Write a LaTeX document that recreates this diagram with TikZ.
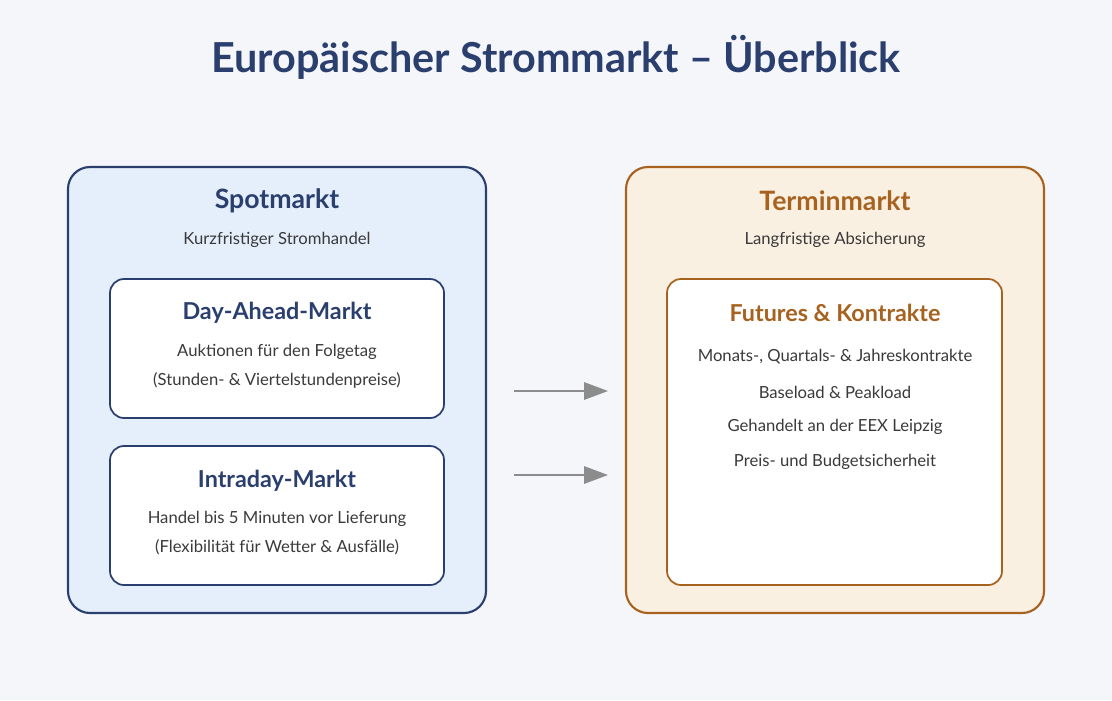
\documentclass[tikz,border=0pt]{standalone}
\usepackage{fontspec}
\setmainfont{Lato}
\usetikzlibrary{arrows.meta}
\definecolor{navy}{HTML}{2B3F6E}
\definecolor{brown}{HTML}{A8621F}
\definecolor{bg}{HTML}{F4F6FA}
\definecolor{bluefill}{HTML}{E5EEFB}
\definecolor{tanfill}{HTML}{FAF0E2}
\definecolor{txt}{HTML}{3A3A3A}
\begin{document}
\begin{tikzpicture}[x=0.75pt,y=-0.75pt,
  outer/.style={rounded corners=16.5pt,line width=1.6pt},
  inner/.style={rounded corners=10.5pt,line width=1.3pt,fill=white},
  ttl/.style={font=\bfseries\fontsize{20}{24}\selectfont},
  ittl/.style={font=\bfseries\fontsize{17.5}{21}\selectfont},
  body/.style={font=\fontsize{12.5}{15}\selectfont,text=txt},
  arr/.style={-{Triangle[length=18pt,width=13pt]},line width=1.6pt,draw=gray!90}]
\fill[bg] (0,0) rectangle (1112,700);
\node[text=navy,font=\bfseries\fontsize{31}{36}\selectfont] (title) at (556,57) {Europäischer Strommarkt – Überblick};
\draw[outer,draw=navy,fill=bluefill] (68,167) rectangle (486,613);
\node[ttl,text=navy] (spot) at (277,201) {Spotmarkt};
\node[body] (spots) at (277,240) {Kurzfristiger Stromhandel};
\draw[inner,draw=navy] (110,279) rectangle (444,418);
\node[ittl,text=navy] (da) at (277,313) {Day-Ahead-Markt};
\node[body] (da1) at (277,352) {Auktionen für den Folgetag};
\node[body] (da2) at (277,380) {(Stunden- \& Viertelstundenpreise)};
\draw[inner,draw=navy] (110,446) rectangle (444,585);
\node[ittl,text=navy] (id) at (277,481) {Intraday-Markt};
\node[body] (id1) at (277,519) {Handel bis 5 Minuten vor Lieferung};
\node[body] (id2) at (277,547) {(Flexibilität für Wetter \& Ausfälle)};
\draw[outer,draw=brown,fill=tanfill] (626,167) rectangle (1044,613);
\node[ttl,text=brown] (term) at (835,201) {Terminmarkt};
\node[body] (terms) at (835,240) {Langfristige Absicherung};
\draw[inner,draw=brown] (667,279) rectangle (1002,585);
\node[ittl,text=brown] (fut) at (835,313) {Futures \& Kontrakte};
\node[body] (f1) at (835,357) {Monats-, Quartals- \& Jahreskontrakte};
\node[body] (f2) at (835,392) {Baseload \& Peakload};
\node[body] (f3) at (835,427) {Gehandelt an der EEX Leipzig};
\node[body] (f4) at (835,462) {Preis- und Budgetsicherheit};
\coordinate (a1s) at (514,391); \coordinate (a1e) at (608,391);
\coordinate (a2s) at (514,475); \coordinate (a2e) at (608,475);
\draw[arr] (a1s) -- (a1e);
\draw[arr] (a2s) -- (a2e);
\end{tikzpicture}
\end{document}
